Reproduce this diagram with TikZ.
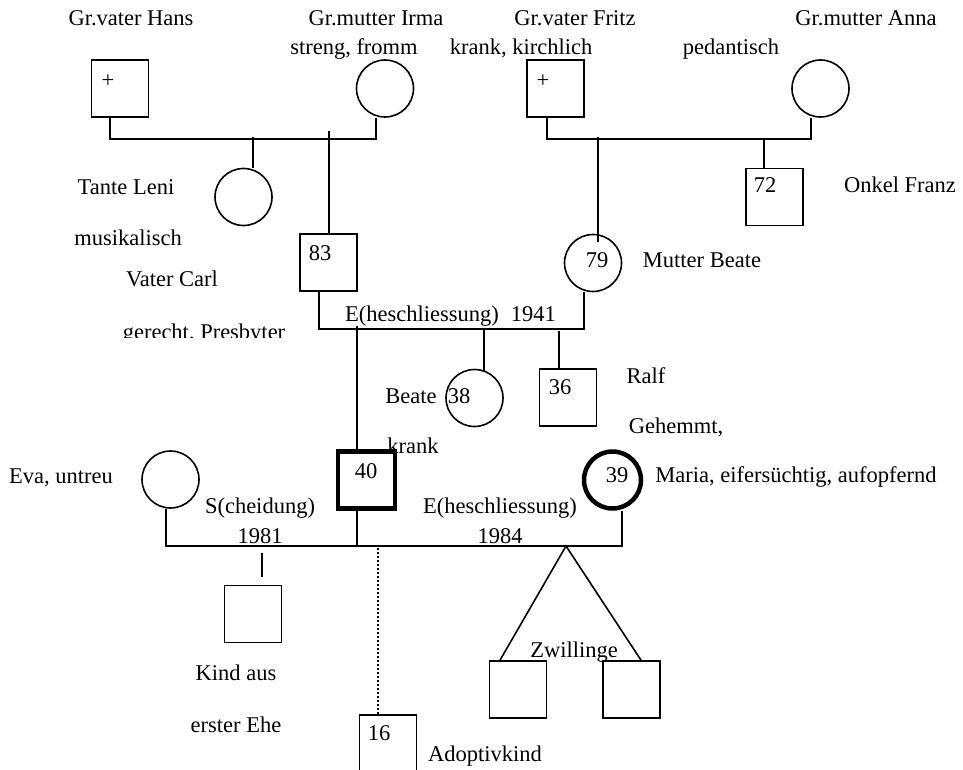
\documentclass[tikz,border=0pt]{standalone}
\usepackage{fontspec}
\setmainfont{Liberation Serif}
\begin{document}
\begin{tikzpicture}[x=1pt,y=-1pt,
  every node/.style={font=\fontsize{22.5}{27}\selectfont},
  sq/.style={draw, rectangle, minimum size=57pt, inner sep=0pt, line width=1.6pt},
  ci/.style={draw, circle, minimum size=57pt, inner sep=0pt, line width=1.6pt},
  bold/.style={line width=4.5pt},
  lbl/.style={anchor=base, inner sep=0pt},
  ln/.style={line width=1.6pt},
  dotline/.style={line width=2pt, dash pattern=on 2pt off 2pt}]
\useasboundingbox (0,0) rectangle (963,770);
% persons
\node[sq] (hans) at (120,88.5) {};
\node[ci] (irma) at (385,88.5) {};
\node[sq] (fritz) at (555.5,88.5) {};
\node[ci] (anna) at (820.5,88.5) {};
\node[ci] (leni) at (243.5,197) {};
\node[sq] (franz) at (774.5,197) {};
\node[sq] (carl) at (328.5,262.5) {};
\node[ci] (mutter) at (593,263) {};
\node[ci] (beatek) at (474.5,398) {};
\node[sq] (ralf) at (568,397.5) {};
\node[sq,bold] (ich) at (366.5,480) {};
\node[ci,bold] (maria) at (612.5,480) {};
\node[ci] (eva) at (170.5,479.5) {};
\node[sq] (kind) at (253,614) {};
\node[sq] (adopt) at (388,743.5) {};
\node[sq] (twinl) at (518,689.5) {};
\node[sq] (twinr) at (631.5,689.5) {};
% connectors
\draw[ln] ([xshift=-10pt]hans.south) -- ++(0,21) -| ([xshift=-9pt]irma.south);
\draw[ln] ([xshift=9.5pt]leni.north) -- ++(0,-30.5);
\draw[ln] ([xshift=0.5pt]carl.north) -- ++(0,-102);
\draw[ln] ([xshift=-8.5pt]fritz.south) -- ++(0,21) -| ([xshift=-9.5pt]anna.south);
\draw[ln] ([xshift=-10.5pt]franz.north) -- ++(0,-30);
\draw[ln] ([xshift=5pt,yshift=-8pt]mutter.north) -- ++(0,-104.5);
\draw[ln] ([xshift=-9.5pt]carl.south) -- ++(0,37) -| ([xshift=-9pt]mutter.south);
\draw[ln] ([xshift=-9.5pt]ich.north) -- ++(0,-123.5);
\draw[ln] ([xshift=9.5pt,yshift=-2pt]beatek.north) -- ++(0,-43);
\draw[ln] ([xshift=-9pt]ralf.north) -- ++(0,-37);
\coordinate (m2) at (357,546);
\coordinate (tw) at (566,546);
\draw[ln] ([xshift=-4.5pt]eva.south) |- (m2);
\draw[ln] ([xshift=-9.5pt]ich.south) -- (m2) -| ([xshift=9.5pt]maria.south);
\draw[ln] ([xshift=9pt,yshift=8pt]kind.north) -- ++(0,-24);
\draw[dotline] ([xshift=-10pt]adopt.north) -- ++(0,-168.5);
\draw[ln] ([xshift=-18pt]twinl.north) -- (tw) -- ([xshift=9.5pt]twinr.north);
% labels
\node[lbl] (t1) at (131,26) {Gr.vater Hans};
\node[lbl] (t2) at (376,26) {Gr.mutter Irma};
\node[lbl] (t3) at (354,55) {streng, fromm};
\node[lbl] (t4) at (575,26) {Gr.vater Fritz};
\node[lbl] (t5) at (521,55) {krank, kirchlich};
\node[lbl] (t6) at (866,26) {Gr.mutter Anna};
\node[lbl] (t7) at (731,55) {pedantisch};
\node (p1) at (108,81) {+};
\node (p2) at (543,81) {+};
\node[lbl] (t8) at (126,194) {Tante Leni};
\node[lbl] (n72) at (765,193) {72};
\node[lbl] (t9) at (900,193) {Onkel Franz};
\node[lbl] (t10) at (128,245) {musikalisch};
\node[lbl] (n83) at (320,260) {83};
\node[lbl] (n79) at (597,267) {79};
\node[lbl] (t11) at (702,267) {Mutter Beate};
\node[lbl] (t12) at (172,286) {Vater Carl};
\node[lbl, anchor=base west] (t13) at (345,321) {E(heschliessung)\hspace{12pt}1941};
\begin{scope}
\clip (100,300) rectangle (320,337.5);
\node[lbl] (t14) at (204,339.5) {gerecht, Presbyter};
\end{scope}
\node[lbl] (t15) at (646,383) {Ralf};
\node[lbl] (n36) at (560,394) {36};
\node[lbl] (t16) at (411,403) {Beate};
\node[lbl] (n38) at (459,403) {38};
\node[lbl] (t17) at (676,433) {Gehemmt,};
\node[lbl] (t18) at (413,453) {krank};
\node[lbl] (n40) at (366,478) {40};
\node[lbl] (t19) at (61,483) {Eva, untreu};
\node[lbl] (n39) at (617,482) {39};
\node[lbl] (t20) at (796,482) {Maria, eifersüchtig, aufopfernd};
\node[lbl] (t21) at (260,513) {S(cheidung)};
\node[lbl] (t22) at (500,513) {E(heschliessung)};
\node[lbl] (t23) at (260,543) {1981};
\node[lbl] (t24) at (500,543) {1984};
\node[lbl] (t25) at (574,657) {Zwillinge};
\node[lbl] (t26) at (236,680) {Kind aus};
\node[lbl] (t27) at (236,732) {erster Ehe};
\node[lbl] (n16) at (379,740) {16};
\node[lbl] (t28) at (485,761) {Adoptivkind};
\end{tikzpicture}
\end{document}
